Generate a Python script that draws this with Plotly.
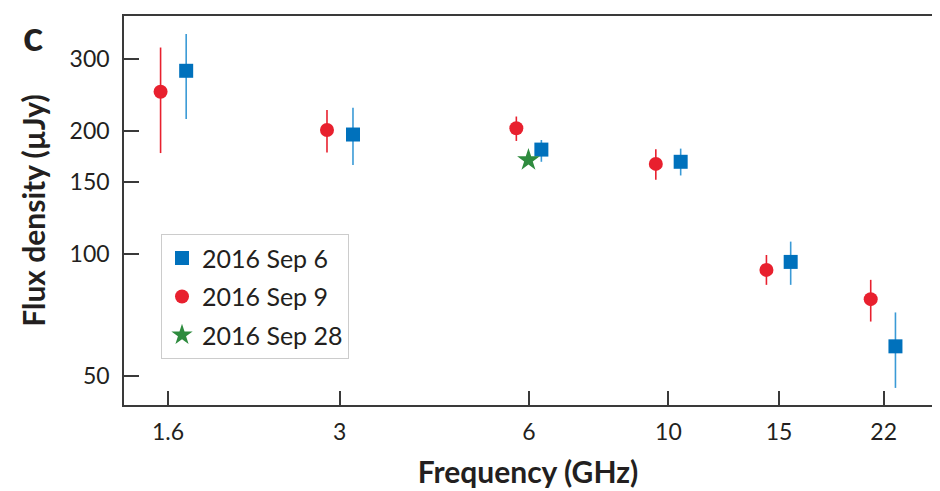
import plotly.graph_objects as go

# flux densities (uJy) with asymmetric errors
sep6_freq = [1.71, 3.15, 6.28, 10.46, 15.65, 22.97]
sep6_flux = [281, 196, 180, 168, 95.4, 59.2]
sep6_err_hi = [65, 32, 10, 13, 11.6, 12.5]
sep6_err_lo = [67, 31, 12, 12.5, 11.6, 12.4]

sep9_freq = [1.557, 2.864, 5.73, 9.55, 14.32, 20.98]
sep9_flux = [249.5, 201, 203, 166, 91.2, 77.3]
sep9_err_hi = [71, 24, 14, 14.4, 8, 8.9]
sep9_err_lo = [73, 24, 14, 14.3, 7.4, 9.2]

sep28_freq = [5.99]
sep28_flux = [169.7]

xtick_vals = [1.6, 3, 6, 10, 15, 22]
ytick_vals = [50, 100, 150, 200, 300]

colors = {"blue": "#0071BC", "blue_err": "#3A9AD6", "red": "#E8202E",
          "green": "#2E8B3E", "text": "#231F20", "axis": "#3A3A3A"}
font_family = "Lato, 'Open Sans', sans-serif"

fig = go.Figure()

fig.add_trace(go.Scatter(
    x=sep6_freq, y=sep6_flux, mode="markers", name="2016 Sep 6",
    legendgroup="a",
    marker=dict(symbol="square", size=14, color=colors["blue"]),
    error_y=dict(type="data", symmetric=False, array=sep6_err_hi,
                 arrayminus=sep6_err_lo, width=0, thickness=1.6,
                 color=colors["blue_err"]),
))
fig.add_trace(go.Scatter(
    x=sep9_freq, y=sep9_flux, mode="markers", name="2016 Sep 9",
    legendgroup="b",
    marker=dict(symbol="circle", size=14, color=colors["red"]),
    error_y=dict(type="data", symmetric=False, array=sep9_err_hi,
                 arrayminus=sep9_err_lo, width=0, thickness=1.6,
                 color=colors["red"]),
))
fig.add_trace(go.Scatter(
    x=sep28_freq, y=sep28_flux, mode="markers", name="2016 Sep 28",
    legendgroup="c",
    marker=dict(symbol="star", size=17, color=colors["green"]),
))

# page body adds an 8px offset, so margins are shifted by that amount
fig.update_layout(
    width=940, height=491,
    margin=dict(l=116, r=16, t=8, b=94),
    plot_bgcolor="white", paper_bgcolor="white",
    font=dict(family=font_family, color=colors["text"], size=23),
    showlegend=True,
    legend=dict(x=0.0458, y=0.439, xanchor="left", yanchor="top",
                bgcolor="white", bordercolor="#CCCCCC", borderwidth=1,
                font=dict(size=25), tracegroupgap=3),
    annotations=[dict(text="<b>c</b>", xref="paper", yref="paper",
                      x=-0.113, y=1.02, xanchor="center", yanchor="top",
                      showarrow=False, font=dict(size=42))],
)

fig.update_xaxes(
    type="log", range=[0.1341, 1.4193], automargin=False,
    tickvals=xtick_vals, ticktext=[str(v) for v in xtick_vals],
    ticks="inside", ticklen=14, tickwidth=1.5, tickcolor=colors["axis"],
    showline=True, linecolor=colors["axis"], linewidth=1.5, mirror=True,
    showgrid=False, zeroline=False, ticklabelstandoff=6,
    title=dict(text="<b>Frequency (GHz)</b>", font=dict(size=30), standoff=18),
)
fig.update_yaxes(
    type="log", range=[1.6283, 2.5832], automargin=False,
    tickvals=ytick_vals, ticktext=[str(v) for v in ytick_vals],
    ticks="inside", ticklen=15, tickwidth=1.5, tickcolor=colors["axis"],
    showline=True, linecolor=colors["axis"], linewidth=1.5, mirror=True,
    showgrid=False, zeroline=False, ticklabelstandoff=8,
    title=dict(text="<b>Flux density (µJy)</b>", font=dict(size=30), standoff=15),
)

fig.write_html("out.html")
